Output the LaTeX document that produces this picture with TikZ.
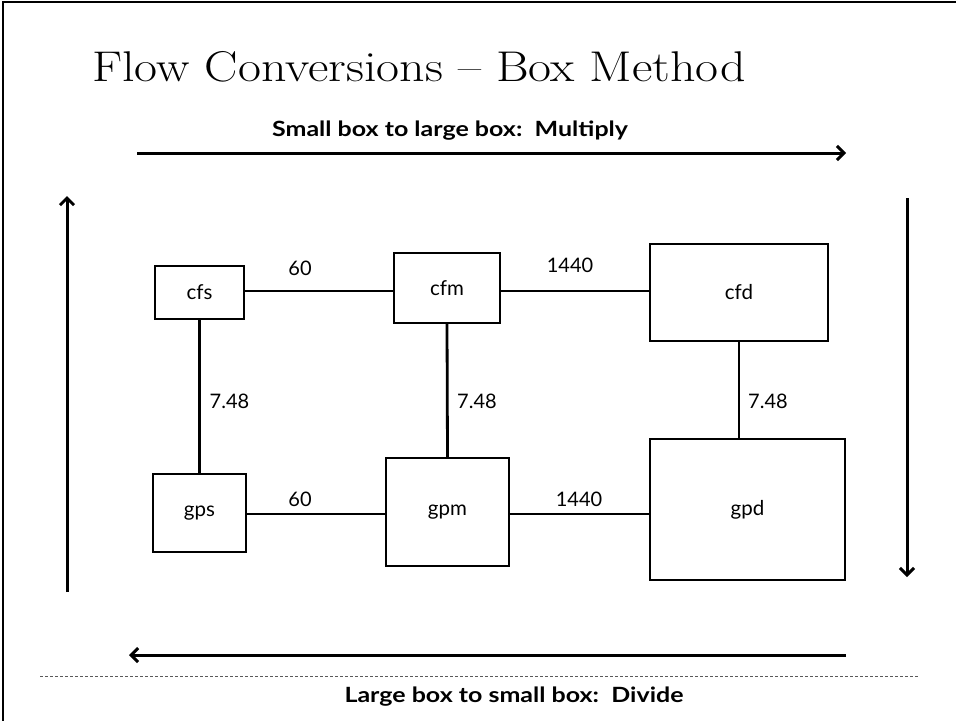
\documentclass[tikz,border=0pt]{standalone}
\usepackage{fontspec}
\setsansfont{Lato}
\usetikzlibrary{arrows.meta}
\begin{document}
\begin{tikzpicture}[x=1pt,y=-1pt,
  box/.style={draw,line width=1.6pt,inner sep=0pt,font=\sffamily\fontsize{20.5}{24}\selectfont},
  conn/.style={line width=2.8pt},
  bigarrow/.style={line width=3pt,-{Straight Barb[length=7pt,width=14pt,line width=3pt]}},
  lbl/.style={font=\sffamily\fontsize{20}{24}\selectfont,inner sep=0pt},
  captext/.style={font=\sffamily\bfseries\fontsize{21}{24}\selectfont,inner sep=0pt}]
\useasboundingbox (0,0) rectangle (956,721);
\fill[white] (0,0) rectangle (956,721);
% slide frame
\draw[line width=1.6pt] (956,2) -- (3,2) -- (3,721);
% title
\node[anchor=base west,inner sep=0pt,font=\fontsize{43}{48}\selectfont] (title) at (92,81) {\scalebox{1.162}[1]{Flow Conversions -- Box Method}};
\node[captext] (top) at (450,131) {\scalebox{1.19}[1]{Small box to large box:\, Multiply}};
\node[captext] (bottom) at (514,697) {\scalebox{1.19}[1]{Large box to small box:\, Divide}};
% big arrows
\coordinate (ta) at (137,153); \coordinate (tb) at (846,153);
\coordinate (la) at (67,592); \coordinate (lb) at (67,196);
\coordinate (ra) at (907,198); \coordinate (rb) at (907,577);
\coordinate (ba) at (846,655); \coordinate (bb) at (129,655);
\draw[bigarrow] (ta) -- (tb);
\draw[bigarrow] (la) -- (lb);
\draw[bigarrow] (ra) -- (rb);
\draw[bigarrow] (ba) -- (bb);
\coordinate (da) at (40,676); \coordinate (db) at (918,676);
\draw[line width=0.8pt,dash pattern=on 3pt off 2pt,gray!70!black] (da) -- (db);
% boxes
\node[box,minimum width=89pt,minimum height=53pt] (cfs) at (199.5,292.5) {cfs};
\node[box,minimum width=106pt,minimum height=70pt] (cfm) at (447,288) {cfm};
\node[box,minimum width=178pt,minimum height=97pt] (cfd) at (739,292.5) {cfd};
\node[box,minimum width=93pt,minimum height=78pt] (gps) at (199.5,513) {gps};
\node[box,minimum width=123pt,minimum height=108pt] (gpm) at (447.5,512) {gpm};
\node[box,minimum width=195pt,minimum height=141pt] (gpd) at (747.5,509.5) {gpd};
% connectors
\draw[conn] (cfs.east |- 0,291) -- (cfm.west |- 0,291);
\draw[conn] (cfm.east |- 0,291) -- (cfd.west |- 0,291);
\draw[conn] (gps.east |- 0,514) -- (gpm.west |- 0,514);
\draw[conn] (gpm.east |- 0,514) -- (gpd.west |- 0,514);
\draw[conn] (cfs.south) -- (gps.north);
\draw[conn] (cfm.south) -- (gpm.north);
\draw[conn] (cfd.south) -- (cfd.south |- gpd.north);
% labels
\node[lbl] (l1) at (300,268) {60};
\node[lbl] (l2) at (570,265) {1440};
\node[lbl] (l3) at (300,499) {60};
\node[lbl] (l4) at (579,499) {1440};
\node[lbl] (l5) at (229.5,401) {7.48};
\node[lbl] (l6) at (477,401) {7.48};
\node[lbl] (l7) at (768,401) {7.48};
\end{tikzpicture}
\end{document}
